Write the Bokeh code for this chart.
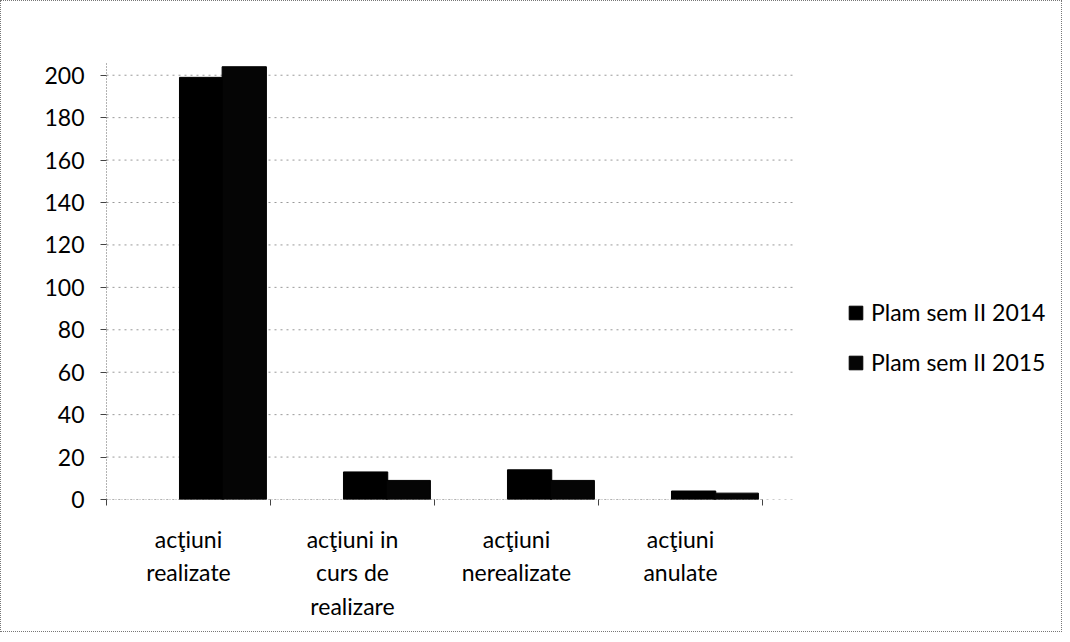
from bokeh.plotting import figure
from bokeh.models import ColumnDataSource, FixedTicker, Legend, LegendItem, Range1d
from bokeh.embed import file_html
from bokeh.resources import INLINE

categories = ["acţiuni\nrealizate", "acţiuni in\ncurs de\nrealizare", "acţiuni\nnerealizate", "acţiuni\nanulate"]
series_names = ["Plam sem II 2014", "Plam sem II 2015"]
values_2014 = [199, 13, 14, 4]
values_2015 = [204, 9, 9, 3]
y_ticks = [0, 20, 40, 60, 80, 100, 120, 140, 160, 180, 200]

FONT = "Lato"
n = len(categories)
centers = [i + 0.5 for i in range(n)]

p = figure(width=1062, height=632, output_backend="svg", toolbar_location=None,
           x_range=Range1d(0, 957 / 164), y_range=Range1d(0, 206),
           min_border_left=105, min_border_top=61, min_border_bottom=134, min_border_right=0)
p.styles = {"border": "1px dotted #777"}
p.outline_line_color = None
p.background_fill_color = "white"

# gridlines (limited to the chart area, not under the legend)
p.segment(x0=[0] * len(y_ticks), x1=[4.2] * len(y_ticks), y0=y_ticks, y1=y_ticks,
          line_color="#999", line_dash="2 4", line_width=1)
p.segment(x0=[0], x1=[4.0], y0=[0], y1=[0], line_color="#666", line_dash="1 2", line_width=1)

src1 = ColumnDataSource(dict(x=[i + 0.58 for i in range(n)], top=values_2014))
src2 = ColumnDataSource(dict(x=[i + 0.84 for i in range(n)], top=values_2015))
r1 = p.vbar(x="x", top="top", bottom=0, width=0.27, source=src1, fill_color="black", line_color="black")
r2 = p.vbar(x="x", top="top", bottom=0, width=0.27, source=src2, fill_color="#050505", line_color="black")

# axes
p.yaxis.ticker = FixedTicker(ticks=y_ticks)
p.yaxis.axis_line_color = "#666"
p.yaxis.axis_line_dash = "1 2"
p.yaxis.major_tick_line_color = "#444"
p.yaxis.major_tick_in = 0
p.yaxis.major_tick_out = 6
p.yaxis.minor_tick_line_color = None
p.yaxis.major_label_text_font = FONT
p.yaxis.major_label_text_font_size = "23px"
p.yaxis.major_label_text_color = "black"
p.yaxis.major_label_standoff = 16

p.xaxis.ticker = FixedTicker(ticks=centers, minor_ticks=list(range(n + 1)))
p.xaxis.major_label_overrides = {c: lab for c, lab in zip(centers, categories)}
p.xaxis.axis_line_color = None
p.xaxis.major_tick_line_color = None
p.xaxis.minor_tick_line_color = "#444"
p.xaxis.minor_tick_in = 0
p.xaxis.minor_tick_out = 6
p.xaxis.major_label_text_font = FONT
p.xaxis.major_label_text_font_size = "23px"
p.xaxis.major_label_text_color = "black"
p.xaxis.major_label_standoff = 19

p.xgrid.grid_line_color = None
p.ygrid.grid_line_color = None

legend = Legend(items=[LegendItem(label=series_names[0], renderers=[r1]),
                       LegendItem(label=series_names[1], renderers=[r2])],
                location=(741, 123), border_line_color=None, background_fill_alpha=0,
                label_text_font=FONT, label_text_font_size="23px", label_text_color="black",
                glyph_width=17, glyph_height=17, label_height=24, spacing=22,
                label_standoff=7, padding=0, margin=0)
p.add_layout(legend)

open("out.html", "w").write(file_html(p, INLINE))
